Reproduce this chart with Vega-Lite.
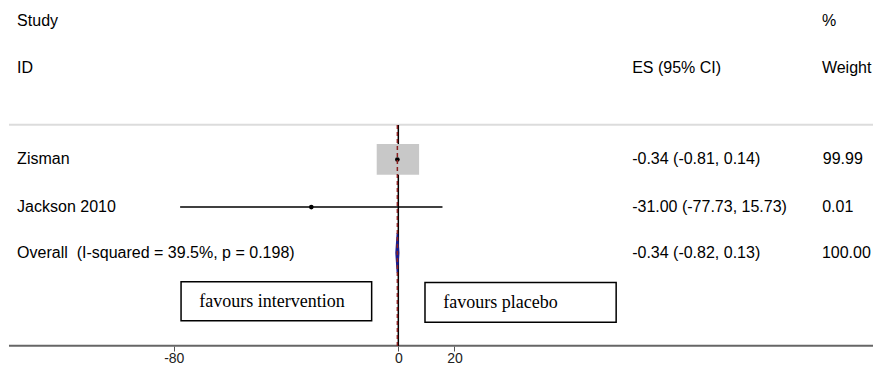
{
  "$schema": "https://vega.github.io/schema/vega-lite/v6.json",
  "width": 873,
  "height": 346,
  "autosize": "none",
  "padding": {"left": 0, "top": 0, "right": 0, "bottom": 21},
  "background": "white",
  "config": {"view": {"stroke": null}},
  "encoding": {
    "x": {"field": "x", "type": "quantitative",
      "scale": {"domain": [-141.9, 169.1], "nice": false, "zero": false},
      "axis": {"values": [-80, 0, 20], "domain": false, "grid": false, "title": null,
        "labelExpr": "'' + datum.value",
        "tickColor": "#555555", "tickSize": 5, "tickWidth": 1,
        "labelFont": "Liberation Sans", "labelFontSize": 14, "labelColor": "#222222", "labelPadding": 0}},
    "y": {"field": "y", "type": "quantitative",
      "scale": {"domain": [-0.45, 6.97], "reverse": true, "nice": false, "zero": false},
      "axis": null}
  },
  "layer": [
    {
      "data": {"values": [{"line": "separator", "x": -138.7, "x2": 169.1, "y": 2.224}]},
      "mark": {"type": "rule", "color": "#dcdcdc", "strokeWidth": 2},
      "encoding": {"x2": {"field": "x2"}}
    },
    {
      "data": {"values": [{"line": "axis", "x": -138.7, "x2": 169.1, "y": 6.965}]},
      "mark": {"type": "rule", "color": "#666666", "strokeWidth": 2},
      "encoding": {"x2": {"field": "x2"}}
    },
    {
      "data": {"values": [{"line": "null effect", "x": 0, "y": 2.23, "y2": 6.97}]},
      "mark": {"type": "rule", "color": "#000000", "strokeWidth": 1.5},
      "encoding": {"y2": {"field": "y2"}}
    },
    {
      "data": {"values": [{"study": "Zisman", "x": -7.7, "x2": 7.4, "y": 2.64, "y2": 3.30}]},
      "mark": {"type": "rect", "color": "#c8c8c8"},
      "encoding": {"x2": {"field": "x2"}, "y2": {"field": "y2"}}
    },
    {
      "data": {"values": [
        {"study": "Zisman", "x": -0.81, "x2": 0.14, "y": 2.97},
        {"study": "Jackson 2010", "x": -77.73, "x2": 15.73, "y": 3.99}
      ]},
      "mark": {"type": "rule", "color": "#000000", "strokeWidth": 1.5},
      "encoding": {"x2": {"field": "x2"}}
    },
    {
      "data": {"values": [
        {"study": "Zisman", "x": -0.34, "y": 2.97},
        {"study": "Jackson 2010", "x": -31.0, "y": 3.99}
      ]},
      "mark": {"type": "point", "filled": true, "color": "#000000", "size": 22, "opacity": 1}
    },
    {
      "data": {"values": [
        {"x": -0.82, "y": 4.97, "y2": 4.97},
        {"x": -0.34, "y": 4.55, "y2": 5.40},
        {"x": 0.13, "y": 4.97, "y2": 4.97}
      ]},
      "mark": {"type": "area", "orient": "vertical", "color": "#1c1c8c", "stroke": "#1c1c8c", "strokeWidth": 1.5, "opacity": 1},
      "encoding": {"y2": {"field": "y2"}}
    },
    {
      "data": {"values": [{"line": "overall effect", "x": -0.34, "y": 2.23, "y2": 6.97}]},
      "mark": {"type": "rule", "color": "#8b2020", "strokeWidth": 1.5, "strokeDash": [4, 3]},
      "encoding": {"y2": {"field": "y2"}}
    },
    {
      "data": {"values": [
        {"box": "favours intervention", "x": -77.4, "x2": -9.5, "y": 5.59, "y2": 6.43},
        {"box": "favours placebo", "x": 9.5, "x2": 77.6, "y": 5.61, "y2": 6.46}
      ]},
      "mark": {"type": "rect", "fill": "#ffffff", "stroke": "#000000", "strokeWidth": 1.5},
      "encoding": {"x2": {"field": "x2"}, "y2": {"field": "y2"}}
    },
    {
      "data": {"values": [
        {"label": "favours intervention", "x": -70.9, "y": 6.13},
        {"label": "favours placebo", "x": 16.0, "y": 6.15}
      ]},
      "mark": {"type": "text", "align": "left", "baseline": "alphabetic", "font": "Liberation Serif", "fontSize": 18, "color": "#000000"},
      "encoding": {"text": {"field": "label"}}
    },
    {
      "data": {"values": [
        {"label": "Study", "x": -135.8, "y": 0},
        {"label": "ID", "x": -135.8, "y": 1},
        {"label": "%", "x": 150.9, "y": 0},
        {"label": "ES (95% CI)", "x": 83.3, "y": 1},
        {"label": "Weight", "x": 150.9, "y": 1},
        {"label": "Zisman", "x": -135.8, "y": 2.97},
        {"label": "-0.34 (-0.81, 0.14)", "x": 83.3, "y": 2.97},
        {"label": "99.99", "x": 151.2, "y": 2.97},
        {"label": "Jackson 2010", "x": -135.8, "y": 3.99},
        {"label": "-31.00 (-77.73, 15.73)", "x": 83.3, "y": 3.99},
        {"label": "0.01", "x": 151.0, "y": 3.99},
        {"label": "Overall \u00a0(I-squared = 39.5%, p = 0.198)", "x": -135.8, "y": 4.97},
        {"label": "-0.34 (-0.82, 0.13)", "x": 83.3, "y": 4.97},
        {"label": "100.00", "x": 150.9, "y": 4.97}
      ]},
      "mark": {"type": "text", "align": "left", "baseline": "middle", "font": "Liberation Sans", "fontSize": 16, "color": "#000000"},
      "encoding": {"text": {"field": "label"}}
    }
  ]
}
